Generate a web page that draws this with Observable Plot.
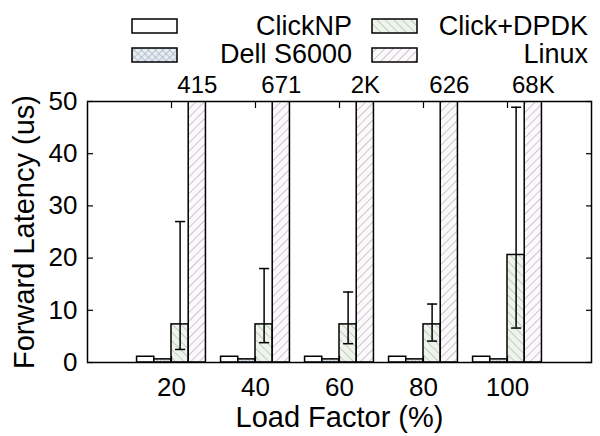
<!DOCTYPE html>
<html><head><meta charset="utf-8">
<script src="https://cdn.jsdelivr.net/npm/d3@7"></script>
<script src="https://cdn.jsdelivr.net/npm/@observablehq/plot@0.6"></script>
<style>
body{margin:0;background:#fff;font-family:"Liberation Sans",Arial,sans-serif;}
svg{display:block}
</style></head><body>
<svg width="0" height="0" style="position:absolute">
<defs>
<pattern id="pat-dell" width="5" height="5" patternUnits="userSpaceOnUse" patternTransform="rotate(45)">
<rect width="5" height="5" fill="#e6ecf2"/>
<path d="M0 0V5M0 0H5" stroke="#8e9fb3" stroke-width="1"/>
</pattern>
<pattern id="pat-dpdk" width="6" height="6" patternUnits="userSpaceOnUse" patternTransform="rotate(-45)">
<rect width="6" height="6" fill="#eef4ec"/>
<path d="M0 0V6" stroke="#a9b8a8" stroke-width="1.3"/>
</pattern>
<pattern id="pat-linux" width="6" height="6" patternUnits="userSpaceOnUse" patternTransform="rotate(45)">
<rect width="6" height="6" fill="#fbf9fb"/>
<path d="M0 0V6" stroke="#b3aab3" stroke-width="1.3"/>
</pattern>
</defs>
</svg>
<div id="legend"></div>
<div id="chart"></div>
<script>
// ---- data ----
const loads = [20, 40, 60, 80, 100];
const series = ["ClickNP", "Dell S6000", "Click+DPDK", "Linux"];
const clicknp = [1.1, 1.1, 1.1, 1.1, 1.1];
const dell = [0.6, 0.6, 0.6, 0.6, 0.6];
const dpdk = [7.3, 7.3, 7.3, 7.3, 20.6];
const dpdkLow = [2.5, 3.8, 3.6, 4.1, 6.6];
const dpdkHigh = [27, 18, 13.5, 11.2, 48.9];
const linux = [415, 671, 2000, 626, 68000];
const linuxLabels = ["415", "671", "2K", "626", "68K"];
const yTicks = [0, 10, 20, 30, 40, 50];
const xLabel = "Load Factor (%)";
const yLabel = "Forward Latency (us)";

// ---- styling ----
const fills = {"ClickNP": "white", "Dell S6000": "url(#pat-dell)", "Click+DPDK": "url(#pat-dpdk)", "Linux": "url(#pat-linux)"};
const values = [clicknp, dell, dpdk, linux];
const W = 4.1; // bar width in load-factor units
const font = '"Liberation Sans", Arial, sans-serif';

// ---- legend (HTML/SVG above the plot) ----
const leg = d3.select("#legend").append("svg").attr("width", 600).attr("height", 68)
  .style("font-family", font);
const legItems = [
  {name: "ClickNP", col: 0, row: 0},
  {name: "Click+DPDK", col: 1, row: 0},
  {name: "Dell S6000", col: 0, row: 1},
  {name: "Linux", col: 1, row: 1}
];
const colBox = [132, 372], colText = [352, 588], rowBox = [19, 48], rowText = [35, 63];
for (const it of legItems) {
  leg.append("rect").attr("x", colBox[it.col]).attr("y", rowBox[it.row]).attr("width", 45).attr("height", 14)
    .attr("fill", fills[it.name]).attr("stroke", "#000").attr("stroke-width", 1.5);
  leg.append("text").attr("x", colText[it.col]).attr("y", rowText[it.row]).attr("text-anchor", "end")
    .attr("font-size", 27).attr("fill", "#000").text(it.name);
}

// ---- plot ----
const barMarks = series.map((s, i) => Plot.rectY(
  loads.map((l, g) => ({load: l, value: values[i][g]})),
  {x1: d => d.load + (i - 2) * W, x2: d => d.load + (i - 1) * W, y1: 0, y2: "value",
   fill: fills[s], stroke: "#000", strokeWidth: 1.5, clip: true}
));
const err = loads.map((l, g) => ({load: l, lo: dpdkLow[g], hi: dpdkHigh[g]}));
const cx = d => d.load + W / 2;

const chart = Plot.plot({
  width: 600, height: 368,
  marginLeft: 87, marginRight: 9, marginTop: 33, marginBottom: 74,
  x: {domain: [0, 120]},
  y: {domain: [0, 50]},
  style: {fontFamily: font, fontSize: "26px", color: "#000", background: "white", overflow: "visible"},
  marks: [
    ...barMarks,
    Plot.ruleX(err, {x: cx, y1: "lo", y2: "hi", stroke: "#000", strokeWidth: 1.5}),
    Plot.link(err, {x1: d => cx(d) - 1.2, x2: d => cx(d) + 1.2, y1: "lo", y2: "lo", stroke: "#000", strokeWidth: 1.5}),
    Plot.link(err, {x1: d => cx(d) - 1.2, x2: d => cx(d) + 1.2, y1: "hi", y2: "hi", stroke: "#000", strokeWidth: 1.5}),
    Plot.frame({stroke: "#000", strokeWidth: 1.5}),
    Plot.axisY({ticks: yTicks, tickSize: 0, tickPadding: 10, label: null, fontSize: 26}),
    Plot.axisY({anchor: "left", ticks: yTicks, tickSize: -6, tickFormat: () => "", label: null, strokeWidth: 1.2}),
    Plot.axisY({anchor: "right", ticks: yTicks, tickSize: -6, tickFormat: () => "", label: null, strokeWidth: 1.2}),
    Plot.axisX({ticks: loads, tickSize: 0, tickPadding: 15, label: null, fontSize: 26}),
    Plot.axisX({anchor: "top", ticks: loads, tickSize: -6, tickFormat: () => "", label: null, strokeWidth: 1.2}),
    Plot.axisX({anchor: "bottom", ticks: loads, tickSize: -6, tickFormat: () => "", label: null, strokeWidth: 1.2}),
    Plot.text(loads.map((l, g) => ({load: l, t: linuxLabels[g]})),
      {x: d => d.load + 1.5 * W, text: "t", frameAnchor: "top", lineAnchor: "bottom", dy: -9, fontSize: 24, fill: "#000"}),
    Plot.text([xLabel], {frameAnchor: "bottom", lineAnchor: "bottom", dy: 64, fontSize: 29, fill: "#000"}),
    Plot.text([yLabel], {frameAnchor: "left", textAnchor: "middle", rotate: -90, dx: -63, fontSize: 29, fill: "#000"})
  ]
});
document.getElementById("chart").appendChild(chart);
</script>
</body></html>
